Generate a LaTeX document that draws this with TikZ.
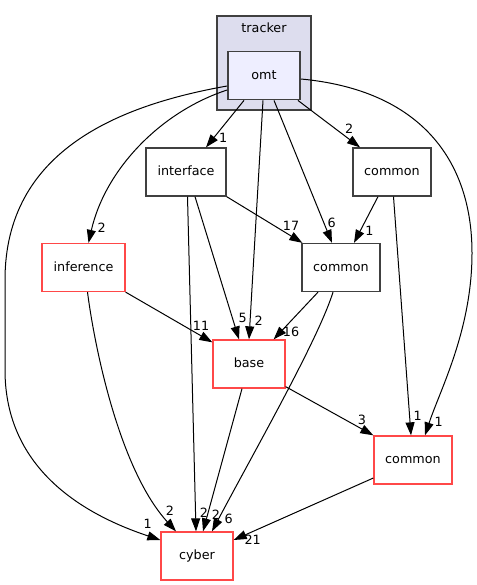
\documentclass[tikz,border=0pt]{standalone}
\usepackage{fontspec}
\setmainfont{DejaVu Sans}
\usetikzlibrary{arrows.meta}
\definecolor{bordergray}{HTML}{404040}
\definecolor{truncred}{HTML}{FF4848}
\definecolor{clusterfill}{HTML}{DDDDEE}
\definecolor{omtfill}{HTML}{EEEEFF}
\begin{document}
\begin{tikzpicture}[x=1bp,y=-1bp,
  every node/.style={font=\fontsize{12.8}{15}\selectfont},
  dirbox/.style={draw=bordergray, line width=1.3bp, minimum height=48bp, inner sep=0pt,
                 text height=9.9bp, text depth=2.5bp},
  truncbox/.style={dirbox, draw=truncred},
  lbl/.style={inner sep=0pt},
  dep/.style={draw=black, line width=1bp, -{Triangle[length=13bp,width=9bp]}}
]
\useasboundingbox (0,0) rectangle (477,585);
\fill[white] (0,0) rectangle (477,585);

% cluster
\node[draw=bordergray, fill=clusterfill, line width=1.3bp, minimum width=94bp, minimum height=94bp, inner sep=0pt] (tracker) at (264,63) {};
\node[anchor=base] (trackerlbl) at (264,32.3) {tracker};

% nodes
\node[dirbox, fill=omtfill, line width=1.8bp, minimum width=72bp] (omt) at (264,75.5) {omt};
\node[dirbox, minimum width=80bp] (interface) at (186,172) {interface};
\node[dirbox, minimum width=78bp] (commonA) at (392,172) {common};
\node[dirbox, minimum width=78bp] (commonB) at (341,267.5) {common};
\node[truncbox, minimum width=83bp] (inference) at (83.5,267.5) {inference};
\node[truncbox, minimum width=72bp] (base) at (249,364) {base};
\node[truncbox, minimum width=78bp] (commonC) at (413,460) {common};
\node[truncbox, minimum width=72bp] (cyber) at (197,556) {cyber};

% edges
\draw[dep] ([xshift=-20bp]omt.south) -- ([xshift=20bp]interface.north);
\draw[dep] ([xshift=-3bp]omt.south east) -- ([xshift=-32bp]commonA.north);
\draw[dep] ([xshift=10bp]omt.south) -- ([xshift=-9bp]commonB.north);
\draw[dep] ([xshift=-1bp]omt.south) -- (base.north);
\draw[dep] ([yshift=-14.5bp]omt.west) .. controls (160,112) and (105,170) .. ([xshift=5bp]inference.north);
\draw[dep] ([yshift=-10.5bp]omt.west) .. controls (120,105) and (5,150) .. (5,280) -- (5,370)
   .. controls (5,460) and (70,510) .. ([yshift=16bp]cyber.west);
\draw[dep] ([yshift=-3.5bp]omt.east) .. controls (420,90) and (472,160) .. (472,253)
   .. controls (472,330) and (440,390) .. ([xshift=12bp]commonC.north);
\draw[dep] (interface.south east) -- ([xshift=1bp]commonB.north west);
\draw[dep] ([xshift=9bp]interface.south) -- ([xshift=-10bp]base.north);
\draw[dep] ([xshift=1.5bp]interface.south) -- ([xshift=-1bp]cyber.north);
\draw[dep] ([xshift=-14bp]commonA.south) -- ([xshift=13bp]commonB.north);
\draw[dep] ([xshift=1.5bp]commonA.south) -- ([xshift=-2bp]commonC.north);
\draw[dep] ([xshift=-23bp]commonB.south) -- ([xshift=-12bp]base.north east);
\draw[dep] ([xshift=-8bp]commonB.south) .. controls (318,340) and (255,450) .. ([xshift=15bp]cyber.north);
\draw[dep] (inference.south east) -- ([yshift=-3bp]base.north west);
\draw[dep] ([xshift=4bp]inference.south) .. controls (95,350) and (120,470) .. ([xshift=-21bp]cyber.north);
\draw[dep] ([xshift=-7bp]base.south) -- ([xshift=6bp]cyber.north);
\draw[dep] ([yshift=2bp]base.south east) -- (commonC.north west);
\draw[dep] ([yshift=-18bp]commonC.west) -- ([yshift=16bp]cyber.east);

% edge labels
\node[lbl] (l1) at (223.3,137.7) {1};
\node[lbl] (l2) at (349.3,128.3) {2};
\node[lbl] (l3) at (331.7,222.7) {6};
\node[lbl] (l4) at (369.3,230.7) {1};
\node[lbl] (l5) at (291,225.7) {17};
\node[lbl] (l6) at (101.7,227.3) {2};
\node[lbl] (l7) at (242.7,318.3) {5};
\node[lbl] (l8) at (258.7,320.7) {2};
\node[lbl] (l9) at (201,326) {11};
\node[lbl] (l10) at (291,331.7) {16};
\node[lbl] (l11) at (362,420) {3};
\node[lbl] (l12) at (417.7,415.7) {1};
\node[lbl] (l13) at (438.7,422) {1};
\node[lbl] (l14) at (147.7,524) {1};
\node[lbl] (l15) at (170,511) {2};
\node[lbl] (l16) at (204,512.7) {2};
\node[lbl] (l17) at (216,515) {2};
\node[lbl] (l18) at (228.7,519.3) {6};
\node[lbl] (l19) at (252.7,540) {21};
\end{tikzpicture}
\end{document}
